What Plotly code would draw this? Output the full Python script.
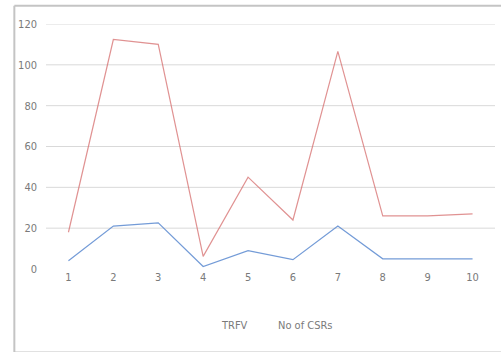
import plotly.graph_objects as go

# Category labels and the two series
periods = ["1", "2", "3", "4", "5", "6", "7", "8", "9", "10"]
trfv = [4, 21, 22.6, 1.2, 9, 4.6, 21, 5, 5, 5]
no_of_csrs = [18, 112.4, 110, 6.2, 45, 24, 106.6, 26, 26, 27]
y_ticks = [0, 20, 40, 60, 80, 100, 120]
series_names = ["TRFV", "No of CSRs"]

FONT = "DejaVu Sans Condensed, Liberation Sans Narrow, Roboto, sans-serif"
GREY = "#7a7a7a"

fig = go.Figure()
fig.add_trace(go.Scatter(x=periods, y=no_of_csrs, mode="lines", name=series_names[1],
                         line=dict(color="rgba(214,110,110,0.75)", width=1.2),
                         showlegend=False))
fig.add_trace(go.Scatter(x=periods, y=trfv, mode="lines", name=series_names[0],
                         line=dict(color="rgba(80,130,205,0.8)", width=1.2),
                         showlegend=False))

# horizontal gridlines (none at zero)
shapes = [dict(type="line", xref="paper", yref="y", x0=0, x1=1, y0=v, y1=v,
               line=dict(color="#d9d9d9", width=1), layer="below")
          for v in y_ticks if v > 0]
# outer chart border: left, top and bottom edges (right edge runs past the page)
border = dict(color="#c4c4c4", width=2)
shapes += [
    dict(type="line", xref="paper", yref="paper", x0=-0.0705, x1=-0.0705,
         y0=-0.341, y1=1.074, line=border),
    dict(type="line", xref="paper", yref="paper", x0=-0.0705, x1=1.05,
         y0=1.074, y1=1.074, line=border),
    dict(type="line", xref="paper", yref="paper", x0=-0.0705, x1=1.05,
         y0=-0.341, y1=-0.341, line=border),
]

annotations = [
    dict(text=series_names[0], xref="paper", yref="paper", x=0.419, y=-0.232,
         yanchor="middle", showarrow=False, font=dict(family=FONT, size=11, color=GREY)),
    dict(text=series_names[1], xref="paper", yref="paper", x=0.577, y=-0.232,
         yanchor="middle", showarrow=False, font=dict(family=FONT, size=11, color=GREY)),
]

fig.update_layout(
    width=501, height=352,
    margin=dict(l=46, r=6, t=24, b=83),
    paper_bgcolor="white", plot_bgcolor="white",
    shapes=shapes, annotations=annotations,
    xaxis=dict(type="category", showgrid=False, zeroline=False, showline=False,
               ticks="", tickfont=dict(family=FONT, size=11, color=GREY),
               range=[-0.5, 9.5]),
    yaxis=dict(range=[0, 120], tickvals=y_ticks, showgrid=False, zeroline=False,
               showline=False, ticks="", ticklabelstandoff=8,
               tickfont=dict(family=FONT, size=11, color=GREY)),
)

fig.write_html("out.html")
